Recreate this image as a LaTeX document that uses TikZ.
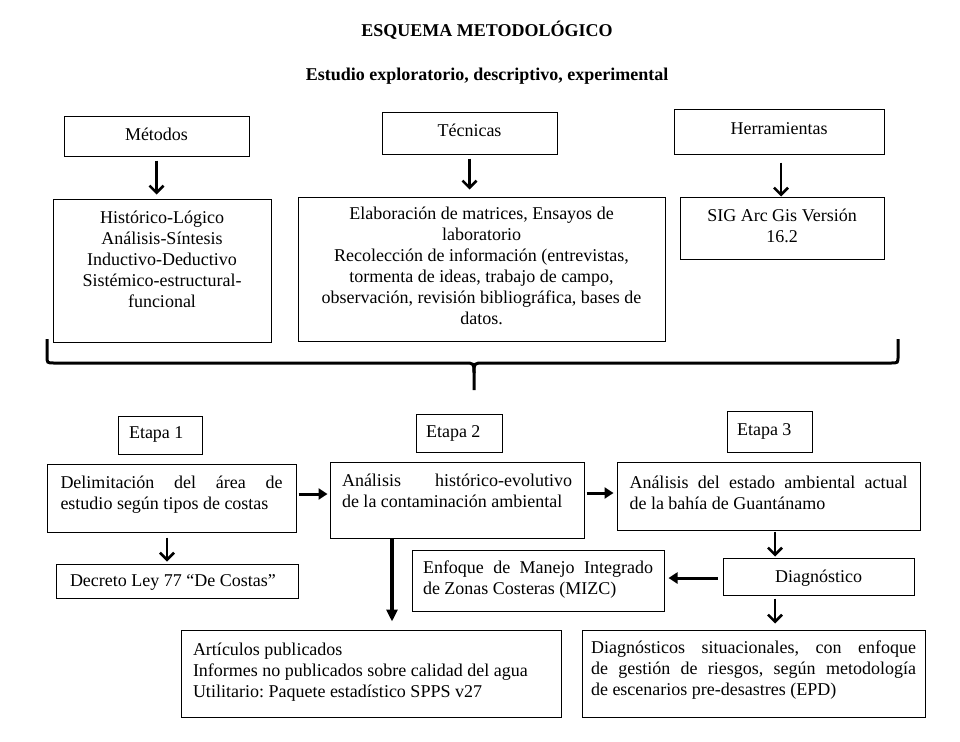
\documentclass[tikz,border=0pt]{standalone}
\usepackage{fontspec}
\setmainfont{Liberation Serif}
\usetikzlibrary{arrows.meta}
\frenchspacing
\newcommand{\bt}[5]{\parbox[c][\dimexpr #2pt-#3pt*2\relax][t]{#1pt}{#4\strut #5}}
\newcommand{\jline}[1]{\makebox[\linewidth][s]{#1}}
\begin{document}
\begin{tikzpicture}[x=1pt,y=-1pt,
  every node/.style={font=\fontsize{18}{21}\selectfont, inner sep=0pt},
  bx/.style={draw, line width=1pt, rectangle},
  barb/.style={line width=2.6pt, -{Straight Barb[length=7pt,width=14pt]}},
  tri/.style={line width=3pt, -{Triangle[length=9pt,width=11pt]}}]
\fill[white] (0,0) rectangle (960,741);
\useasboundingbox (0,0) rectangle (960,741);

% titles
\node[anchor=base, font=\fontsize{18}{21}\selectfont\bfseries] (title) at (487,37) {ESQUEMA METODOLÓGICO};
\node[anchor=base, font=\fontsize{18}{21}\selectfont\bfseries] (subtitle) at (487,81) {Estudio exploratorio, descriptivo, experimental};

% top row
\node[bx, minimum width=185pt, minimum height=39pt] (metodos) at (156.5,136.5) {\bt{170}{39}{8.3}{\centering}{Métodos}};
\node[bx, minimum width=218pt, minimum height=143pt] (metcont) at (162,270.5) {\bt{205}{143}{9.3}{\centering}{Histórico-Lógico\\Análisis-Síntesis\\Inductivo-Deductivo\\Sistémico-estructural-\\funcional}};
\node[bx, minimum width=175pt, minimum height=41pt] (tecnicas) at (469.5,133.5) {\bt{160}{41}{8.3}{\centering}{Técnicas}};
\node[bx, minimum width=367pt, minimum height=144pt] (teccont) at (481.5,269) {\bt{355}{144}{7.3}{\centering}{Elaboración de matrices, Ensayos de\\laboratorio\\Recolección de información (entrevistas,\\tormenta de ideas, trabajo de campo,\\observación, revisión bibliográfica, bases de\\datos.}};
\node[bx, minimum width=210pt, minimum height=44pt] (herr) at (779,132) {\bt{195}{44}{9.3}{\centering}{Herramientas}};
\node[bx, minimum width=204pt, minimum height=62pt] (herrcont) at (782,228) {\bt{190}{62}{9.3}{\centering}{SIG Arc Gis Versión\\16.2}};

\draw[barb, shorten <=4pt, shorten >=4pt] (metodos.south) -- (metodos.south |- metcont.north);
\draw[barb, shorten <=4pt, shorten >=7pt] (tecnicas.south) -- (tecnicas.south |- teccont.north);
\draw[barb, shorten <=8pt] ([xshift=2pt]herr.south) -- ([xshift=2pt]herr.south |- herrcont.north);

% brace
\draw[line width=3pt] (47,339) -- (47,356) .. controls (47,363) .. (54,363) -- (464,363) .. controls (474,363) .. (474,373) -- (474,390);
\draw[line width=3pt] (474,373) .. controls (474,363) .. (484,363) -- (891,363) .. controls (898,363) .. (898,356) -- (898,339);

% stages
\node[bx, minimum width=84pt, minimum height=38pt] (etapa1) at (160,435) {\bt{62}{38}{7.3}{\raggedright}{Etapa 1}};
\node[bx, minimum width=86pt, minimum height=38pt] (etapa2) at (459,433) {\bt{66}{38}{8.3}{\raggedright}{Etapa 2}};
\node[bx, minimum width=85pt, minimum height=41pt] (etapa3) at (769.5,431.5) {\bt{65}{41}{9.3}{\raggedright}{Etapa 3}};

\node[bx, minimum width=249pt, minimum height=68pt] (delim) at (171.5,498) {\bt{222}{68}{9.3}{\relax}{\jline{Delimitación del área de}\\estudio según tipos de costas}};
\node[bx, minimum width=254pt, minimum height=76pt] (hist) at (457,500) {\bt{230}{76}{9.3}{\relax}{\jline{Análisis histórico-evolutivo}\\de la contaminación ambiental}};
\node[bx, minimum width=303pt, minimum height=68pt] (estado) at (768.5,496) {\bt{278}{68}{11.3}{\relax}{\jline{Análisis del estado ambiental actual}\\de la bahía de Guantánamo}};

\node[bx, minimum width=242pt, minimum height=34pt] (decreto) at (177,581) {\bt{214}{34}{7.3}{\raggedright}{Decreto Ley 77 “De Costas”}};
\node[bx, minimum width=252pt, minimum height=61pt] (enfoque) at (538,580.5) {\bt{230}{61}{8.3}{\relax}{\jline{Enfoque de Manejo Integrado}\\de Zonas Costeras (MIZC)}};
\node[bx, minimum width=191pt, minimum height=37pt] (diag) at (818.5,576.5) {\bt{180}{37}{9.3}{\centering}{Diagnóstico}};

\node[bx, minimum width=380pt, minimum height=87pt] (art) at (371,673.5) {\bt{356}{87}{10.3}{\raggedright}{Artículos publicados\\Informes no publicados sobre calidad del agua\\Utilitario: Paquete estadístico SPPS v27}};
\node[bx, minimum width=343pt, minimum height=87pt] (diags) at (753.5,673.5) {\bt{325}{87}{8.3}{\relax}{\jline{Diagnósticos situacionales, con enfoque}\\\jline{de gestión de riesgos, según metodología}\\de escenarios pre-desastres (EPD)}};

% connectors
\draw[tri, shorten <=2pt, shorten >=2pt] ([yshift=4pt]delim.east) -- ([yshift=4pt]delim.east -| hist.west);
\draw[tri, shorten <=2pt, shorten >=3pt] ([yshift=7pt]hist.east) -- ([yshift=7pt]hist.east -| estado.west);
\draw[barb, shorten <=5pt, shorten >=2pt] ([xshift=-4.5pt]delim.south) -- ([xshift=-4.5pt]delim.south |- decreto.north);
\draw[line width=4pt, -{Triangle[length=12pt,width=11pt]}, shorten >=8pt] ([xshift=-65pt]hist.south) -- ([xshift=-65pt]hist.south |- art.north);
\draw[barb, shorten <=1pt, shorten >=1pt] ([xshift=6.5pt]estado.south) -- ([xshift=6.5pt]estado.south |- diag.north);
\draw[tri, shorten <=5pt, shorten >=4pt] ([yshift=-1.5pt]diag.west) -- ([yshift=-1.5pt]diag.west -| enfoque.east);
\draw[barb, shorten <=3pt, shorten >=6pt] ([xshift=-43.5pt]diag.south) -- ([xshift=-43.5pt]diag.south |- diags.north);
\end{tikzpicture}
\end{document}
